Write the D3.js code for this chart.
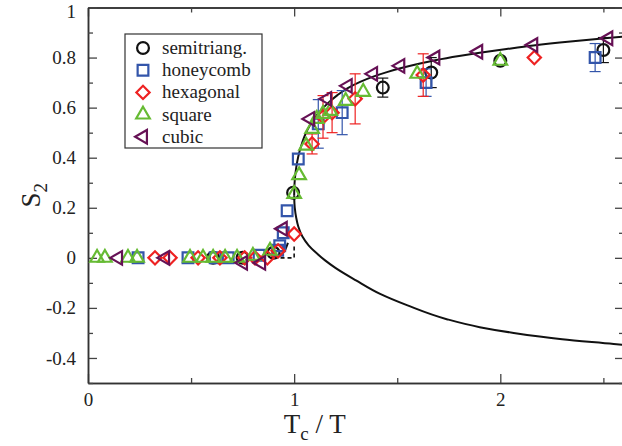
<!DOCTYPE html>
<html>
<head>
<meta charset="utf-8">
<script src="https://cdn.jsdelivr.net/npm/d3@7/dist/d3.min.js"></script>
<style>
body { margin: 0; background: #fff; }
text { font-family: "Liberation Serif", "DejaVu Serif", serif; fill: #222; }
</style>
</head>
<body>
<div id="chart"></div>
<script>
var w = 622,
	h = 446;

var xMajor = [0, 1, 2];
var xMinor = [0.5, 1.5, 2.5];
var yMajor = [-0.4, -0.2, 0, 0.2, 0.4, 0.6, 0.8, 1];
var yMinor = [-0.5, -0.3, -0.1, 0.1, 0.3, 0.5, 0.7, 0.9];

// semitriang.
var semiX = [0.607, 0.75, 0.9, 0.995, 1.43, 1.665, 2.0, 2.5];
var semiY = [0.0, 0.0, 0.02, 0.26, 0.68, 0.74, 0.787, 0.83];
var semiE = [0, 0, 0, 0, 0.038, 0.06, 0, 0.05];

// honeycomb
var honeyX = [0.243, 0.485, 0.617, 0.68, 0.83, 0.92, 0.93, 0.947, 0.966, 1.02, 1.117, 1.233, 1.64, 2.46];
var honeyY = [0.0, 0.0, 0.0, 0.0, 0.01, 0.03, 0.048, 0.1, 0.188, 0.395, 0.535, 0.58, 0.70, 0.80];
var honeyE = [0, 0, 0, 0, 0, 0, 0, 0, 0, 0, 0.097, 0.088, 0.055, 0.056];

// hexagonal
var hexX = [0.325, 0.398, 0.534, 0.64, 0.76, 0.81, 0.87, 0.922, 1.0, 1.087, 1.14, 1.184, 1.296, 1.626, 2.165];
var hexY = [0.0, 0.0, 0.0, 0.0, 0.0, 0.0, 0.0, 0.028, 0.095, 0.455, 0.563, 0.58, 0.635, 0.73, 0.80];
var hexE = [0, 0, 0, 0, 0, 0, 0, 0, 0, 0.04, 0.085, 0.08, 0.1, 0.085, 0];

// square
var sqX = [0.044, 0.082, 0.194, 0.238, 0.495, 0.558, 0.607, 0.665, 0.723, 0.8, 0.883, 1.0, 1.024, 1.058, 1.087, 1.11, 1.14, 1.175, 1.25, 1.335, 1.597, 2.0];
var sqY = [0.0, 0.0, 0.0, 0.0, 0.0, 0.0, 0.0, 0.0, 0.0, 0.008, 0.028, 0.255, 0.33, 0.448, 0.515, 0.555, 0.575, 0.587, 0.627, 0.663, 0.735, 0.787];

// cubic
var cubX = [0.146, 0.374, 0.752, 0.84, 0.945, 1.078, 1.16, 1.26, 1.383, 1.515, 1.685, 1.893, 2.16, 2.524];
var cubY = [0.0, 0.0, -0.02, -0.02, 0.116, 0.555, 0.635, 0.687, 0.735, 0.767, 0.80, 0.823, 0.85, 0.877];

// mean-field curve
var upX = [1.0, 1.003, 1.01, 1.02, 1.035, 1.05, 1.08, 1.12, 1.16, 1.21, 1.26, 1.32, 1.38, 1.45, 1.52, 1.6, 1.69, 1.8, 1.9, 2.03, 2.16, 2.34, 2.52, 2.6];
var upY = [0.25, 0.31, 0.36, 0.405, 0.45, 0.485, 0.535, 0.58, 0.615, 0.65, 0.678, 0.703, 0.723, 0.742, 0.758, 0.774, 0.79, 0.806, 0.819, 0.834, 0.848, 0.864, 0.878, 0.884];
var lowX = [1.0, 1.003, 1.01, 1.02, 1.04, 1.07, 1.1, 1.15, 1.2, 1.3, 1.417, 1.55, 1.74, 1.9, 2.065, 2.3, 2.55, 2.6];
var lowY = [0.25, 0.2, 0.16, 0.125, 0.085, 0.05, 0.025, -0.01, -0.04, -0.09, -0.144, -0.19, -0.245, -0.277, -0.30, -0.325, -0.344, -0.348];
var leftX = [0.89, 0.93, 0.955, 0.97];
var leftY = [0.0, 0.01, 0.03, 0.06];
var dashX = [0.9, 1.0, 1.0];
var dashY = [0.0, 0.0, 0.045];

var names = ["semitriang.", "honeycomb", "hexagonal", "square", "cubic"];
var colors = ["#111111", "#3355aa", "#ee2222", "#66bb33", "#661155"];

var root = d3.select("#chart").append("svg").attr("width", w).attr("height", h);

var x = d3.scaleLinear().domain([0, 2.6]).range([88, 624]);
var y = d3.scaleLinear().domain([-0.5, 1]).range([383, 7.5]);

function fmt(d) {
	return (+d.toFixed(1)).toString();
}

function styleAxis(g) {
	g.selectAll("path").style("stroke", "#333").style("stroke-width", 1.5);
	g.selectAll("line").style("stroke", "#444").style("stroke-width", 1.3);
	g.selectAll("text").style("font-family", "Liberation Serif").style("font-size", "19px").style("fill", "#222");
}

// axes: major and minor ticks, all pointing inward
var gb = root.append("g").attr("transform", "translate(0," + y(-0.5) + ")")
	.call(d3.axisBottom(x).tickValues(xMajor).tickFormat(fmt).tickSizeInner(-9).tickSizeOuter(0).tickPadding(10));
styleAxis(gb);
var gbm = root.append("g").attr("transform", "translate(0," + y(-0.5) + ")")
	.call(d3.axisBottom(x).tickValues(xMinor).tickFormat("").tickSizeInner(-5).tickSizeOuter(0));
styleAxis(gbm);
var gt = root.append("g").attr("transform", "translate(0," + y(1) + ")")
	.call(d3.axisTop(x).tickValues(xMajor).tickFormat("").tickSizeInner(-9).tickSizeOuter(0));
styleAxis(gt);
var gtm = root.append("g").attr("transform", "translate(0," + y(1) + ")")
	.call(d3.axisTop(x).tickValues(xMinor).tickFormat("").tickSizeInner(-5).tickSizeOuter(0));
styleAxis(gtm);
var gl = root.append("g").attr("transform", "translate(" + x(0) + ",0)")
	.call(d3.axisLeft(y).tickValues(yMajor).tickFormat(fmt).tickSizeInner(-9).tickSizeOuter(0).tickPadding(12));
styleAxis(gl);
gl.selectAll(".tick text").filter(function(d) { return d === 1; }).attr("dy", "0.5em");
var glm = root.append("g").attr("transform", "translate(" + x(0) + ",0)")
	.call(d3.axisLeft(y).tickValues(yMinor).tickFormat("").tickSizeInner(-5).tickSizeOuter(0));
styleAxis(glm);
var gr = root.append("g").attr("transform", "translate(" + x(2.6) + ",0)")
	.call(d3.axisRight(y).tickValues(yMajor).tickFormat("").tickSizeInner(-9).tickSizeOuter(0));
styleAxis(gr);
var grm = root.append("g").attr("transform", "translate(" + x(2.6) + ",0)")
	.call(d3.axisRight(y).tickValues(yMinor).tickFormat("").tickSizeInner(-5).tickSizeOuter(0));
styleAxis(grm);

// axis titles
var yl = root.append("text").attr("transform", "translate(40," + y(0.25) + ") rotate(-90)")
	.attr("text-anchor", "middle").style("font-size", "27px");
yl.append("tspan").text("S");
yl.append("tspan").attr("dy", 7).style("font-size", "19px").text("2");

var xl = root.append("text").attr("x", x(1.1)).attr("y", 433).attr("text-anchor", "middle").style("font-size", "27px");
xl.append("tspan").text("T");
xl.append("tspan").attr("dy", 7).style("font-size", "19px").text("c");
xl.append("tspan").attr("dy", -7).text(" / T");

// curves
var line = d3.line().x(function(d) { return x(d[0]); }).y(function(d) { return y(d[1]); });
var lineY = d3.line().x(function(d) { return x(d[0]); }).y(function(d) { return y(d[1]); }).curve(d3.curveMonotoneY);
function pairs(xs, ys) {
	return xs.map(function(d, i) { return [d, ys[i]]; });
}
root.append("path").attr("d", lineY(pairs(upX, upY)))
	.style("fill", "none").style("stroke", "#111").style("stroke-width", 2);
root.append("path").attr("d", lineY(pairs(lowX, lowY).reverse()))
	.style("fill", "none").style("stroke", "#111").style("stroke-width", 2);
root.append("path").attr("d", line.curve(d3.curveMonotoneX)(pairs(leftX, leftY)))
	.style("fill", "none").style("stroke", "#111").style("stroke-width", 2);
root.append("path").attr("d", line.curve(d3.curveLinear)(pairs(dashX, dashY)))
	.style("fill", "none").style("stroke", "#111").style("stroke-width", 1.6).style("stroke-dasharray", "4,3");

// markers
var shapes = [
	d3.symbol().type(d3.symbolCircle).size(110),
	d3.symbol().type(d3.symbolSquare).size(115),
	d3.symbol().type(d3.symbolSquare).size(88),
	d3.symbol().type(d3.symbolTriangle).size(80),
	d3.symbol().type(d3.symbolTriangle).size(80)
];
var rotations = [0, 0, 45, 0, -90];

function drawSeries(k, xs, ys, es) {
	var g = root.append("g");
	if (es) {
		xs.forEach(function(d, i) {
			if (!es[i]) return;
			var cx = x(d), y1 = y(ys[i] + es[i]), y2 = y(ys[i] - es[i]);
			g.append("line").attr("x1", cx).attr("x2", cx).attr("y1", y1).attr("y2", y2);
			g.append("line").attr("x1", cx - 5.5).attr("x2", cx + 5.5).attr("y1", y1).attr("y2", y1);
			g.append("line").attr("x1", cx - 5.5).attr("x2", cx + 5.5).attr("y1", y2).attr("y2", y2);
		});
		g.selectAll("line").style("stroke", colors[k]).style("stroke-width", 1.2);
	}
	xs.forEach(function(d, i) {
		g.append("path").attr("d", shapes[k]())
			.attr("transform", "translate(" + x(d) + "," + y(ys[i]) + ") rotate(" + rotations[k] + ")")
			.style("fill", "none").style("stroke", colors[k]).style("stroke-width", 2.2);
	});
}

drawSeries(0, semiX, semiY, semiE);
drawSeries(1, honeyX, honeyY, honeyE);
drawSeries(2, hexX, hexY, hexE);
drawSeries(3, sqX, sqY, null);
drawSeries(4, cubX, cubY, null);

// legend
var lg = root.append("g");
lg.append("rect").attr("x", 125).attr("y", 34).attr("width", 137).attr("height", 114)
	.style("fill", "#fff").style("stroke", "#333").style("stroke-width", 1.2);
names.forEach(function(n, k) {
	var ly = 48 + k * 22.2;
	lg.append("path").attr("d", shapes[k]())
		.attr("transform", "translate(143," + ly + ") rotate(" + rotations[k] + ")")
		.style("fill", "none").style("stroke", colors[k]).style("stroke-width", 2.2);
	lg.append("text").attr("x", 162).attr("y", ly + 6).style("font-size", "19px").text(n);
});
</script>
</body>
</html>
